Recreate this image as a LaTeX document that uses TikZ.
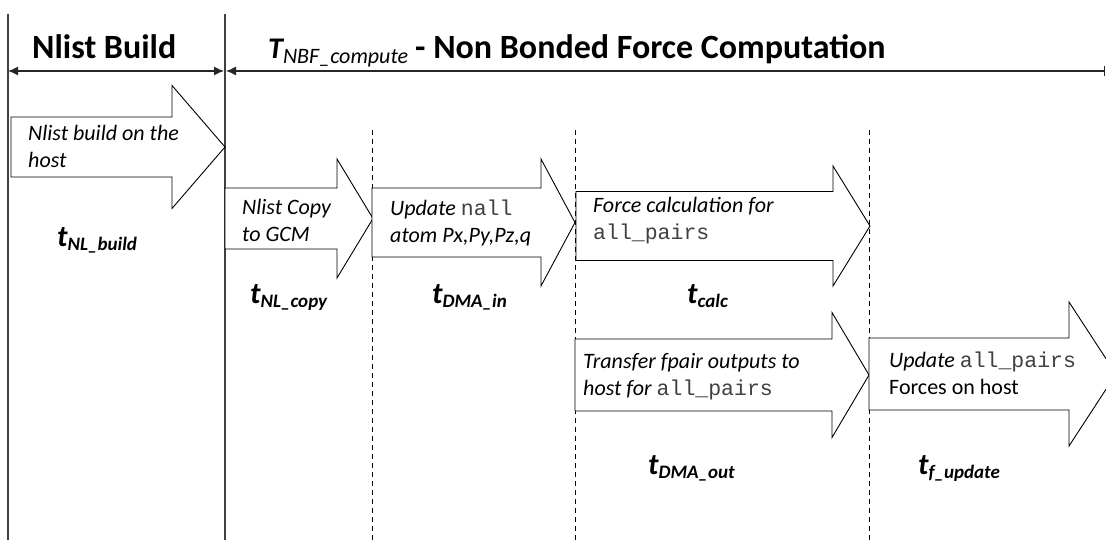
\documentclass[tikz,border=0pt]{standalone}
\usepackage{fontspec}
\setmainfont{Carlito}
\setmonofont{Liberation Mono}
\usetikzlibrary{arrows.meta}

\newcommand{\code}[1]{{\fontsize{21.5}{26}\selectfont\ttfamily\upshape\color{black!75}#1}}
\newcommand{\tvar}[1]{{\fontsize{30}{30}\selectfont\bfseries\itshape t}\raisebox{-4pt}{\fontsize{19}{19}\selectfont\bfseries\itshape #1}}

\tikzset{
	blk/.style = {draw = black, line width = 0.9pt, fill = white},
	txt/.style = {anchor = base west, inner sep = 0pt, align = left, font = \fontsize{22}{27}\selectfont\itshape},
	tl/.style = {anchor = base west, inner sep = 0pt},
	sep/.style = {draw = black!75, line width = 1.1pt},
	dsh/.style = {draw = black, line width = 0.8pt, dash pattern = on 5pt off 4pt},
	hdr/.style = {draw = black!85, line width = 1.3pt},
}

\begin{document}
\begin{tikzpicture}[x = 1pt, y = -1pt]
							\useasboundingbox (0, 0) rectangle (1106, 548);
							\clip (0, 0) rectangle (1106, 548);

							% time boundaries
							\coordinate[](s0) at (8, 14);
							\coordinate[](s0b) at (8, 540);
							\coordinate[](s1) at (225, 14);
							\coordinate[](s1b) at (225, 540);
							\draw[sep] (s0)--(s0b);
							\draw[sep] (s1)--(s1b);
							\foreach \xd [count = \i] in {372, 575, 869}{
								\coordinate[](d\i) at (\xd, 130);
								\coordinate[](d\i b) at (\xd, 540);
								\draw[dsh] (d\i)--(d\i b);
							}

							% header
							\coordinate[](h0) at (8, 71);
							\coordinate[](h1) at (224, 71);
							\coordinate[](h2) at (226, 71);
							\coordinate[](h3) at (1105, 71);
							\draw[hdr, {Latex[length = 10pt, width = 9pt]}-{Latex[length = 10pt, width = 9pt]}] (h0)--(h1);
							\draw[hdr, {Latex[length = 10pt, width = 9pt]}-{Bar[width = 10pt]}] (h2)--(h3);
							\node[tl, font = \fontsize{34}{34}\selectfont\bfseries] (nlTitle) at (32, 59) {Nlist Build};
							\node[tl] (nbfTitle) at (268, 59) {{\fontsize{30}{30}\selectfont\bfseries\itshape T}\raisebox{-5pt}{\fontsize{22}{22}\selectfont\itshape NBF\_compute}\hspace{7pt}{\fontsize{34}{34}\selectfont\bfseries - Non Bonded Force Computation}};

							% block arrows: left, head base, tip, centre, body half, head half
							\foreach \xa/\xb/\xc/\yc/\bh/\hh in {11/172/225/147/30/61.5, 225/337/373/218.5/30.5/59.5, 372/541/575/222.5/34.5/63.5, 576/833/870/226/34.5/60, 575/832/869/375/36/62.5, 869/1069/1116/374/36/72}{
								\draw[blk] (\xa, {\yc-\bh})--(\xb, {\yc-\bh})--(\xb, {\yc-\hh})--(\xc, \yc)--(\xb, {\yc+\hh})--(\xb, {\yc+\bh})--(\xa, {\yc+\bh})--cycle;
							}

							% texts, placed at the baseline of their last line
							\node[txt] (buildTxt) at (28, 168) {Nlist build on the\\host};
							\node[txt] (copyTxt) at (242, 242) {Nlist Copy\\to GCM};
							\node[txt] (dmaInTxt) at (390, 243) {Update \code{nall}\\atom Px,Py,Pz,q};
							\node[txt] (calcTxt) at (593, 240) {Force calculation for\\\code{all\_pairs}};
							\node[txt] (dmaOutTxt) at (583, 395) {Transfer fpair outputs to\\host for \code{all\_pairs}};
							\node[txt] (updTxt) at (889, 394) {Update \code{all\_pairs}\\\upshape Forces on host};

							% durations
							\node[tl] (tBuild) at (57, 247) {\tvar{NL\_build}};
							\node[tl] (tCopy) at (250, 303) {\tvar{NL\_copy}};
							\node[tl] (tDmaIn) at (432, 303) {\tvar{DMA\_in}};
							\node[tl] (tCalc) at (687, 303) {\tvar{calc}};
							\node[tl] (tDmaOut) at (648, 474) {\tvar{DMA\_out}};
							\node[tl] (tUpd) at (918, 474) {\tvar{f\_update}};
						\end{tikzpicture}
\end{document}
